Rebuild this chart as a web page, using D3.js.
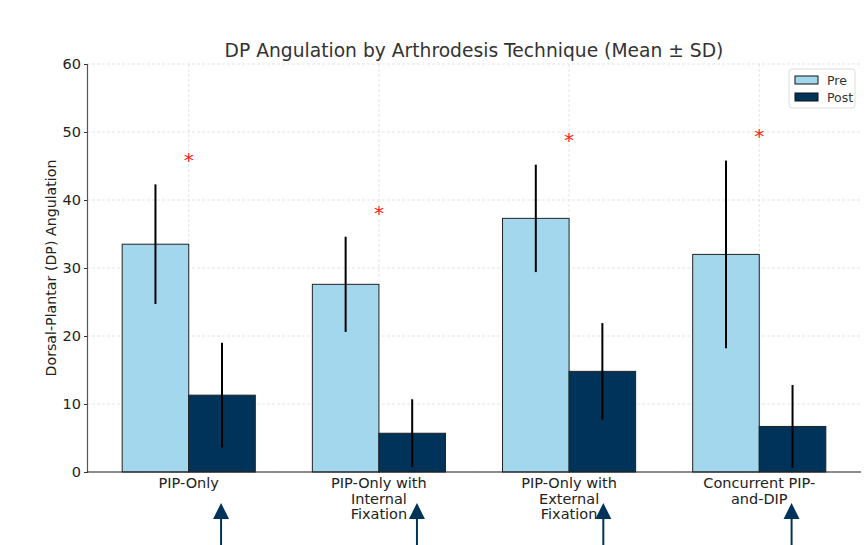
<!DOCTYPE html>
<html>
<head>
<meta charset="utf-8">
<script src="https://cdn.jsdelivr.net/npm/d3@7"></script>
<style>
  body { margin: 0; background: #fff; }
  svg { font-family: "DejaVu Sans", sans-serif; }
</style>
</head>
<body>
<div id="chart"></div>
<script>
// categories and values
const categories = [
  ["PIP-Only"],
  ["PIP-Only with", "Internal", "Fixation"],
  ["PIP-Only with", "External", "Fixation"],
  ["Concurrent PIP-", "and-DIP"]
];
const preMean = [33.5, 27.6, 37.3, 32.0];
const preSD = [8.8, 7.0, 7.9, 13.8];
const postMean = [11.3, 5.7, 14.8, 6.7];
const postSD = [7.7, 5.0, 7.1, 6.1];
const yTicks = [0, 10, 20, 30, 40, 50, 60];
const arrowX = [0.17, 1.2, 2.18, 3.17];  // arrow annotations below the axis, in group units

const W = 866, H = 545;
const margin = { left: 87, right: 5, top: 64, bottom: 73 };
const barW = 0.35;

const svg = d3.select("#chart").append("svg")
  .attr("width", W).attr("height", H);

const x = d3.scaleLinear()
  .domain([-0.535, 3.535])
  .range([margin.left, W - margin.right]);
const y = d3.scaleLinear()
  .domain([0, 60])
  .range([H - margin.bottom, margin.top]);

// grid
const grid = svg.append("g");
grid.selectAll("line.hy").data(yTicks).enter().append("line")
  .attr("x1", x.range()[0]).attr("x2", x.range()[1])
  .attr("y1", d => y(d)).attr("y2", d => y(d))
  .attr("stroke", "#dadada").attr("stroke-width", 0.7).attr("stroke-dasharray", "3,2");
grid.selectAll("line.vx").data(categories).enter().append("line")
  .attr("x1", (d, i) => x(i)).attr("x2", (d, i) => x(i))
  .attr("y1", y(0)).attr("y2", y(60))
  .attr("stroke", "#dadada").attr("stroke-width", 0.7).attr("stroke-dasharray", "3,2");

// bars
const series = [
  { name: "Pre", mean: preMean, sd: preSD, off: -barW, color: "#a3d7ee" },
  { name: "Post", mean: postMean, sd: postSD, off: 0, color: "#003359" }
];
series.forEach(s => {
  const g = svg.append("g");
  g.selectAll("rect").data(s.mean).enter().append("rect")
    .attr("x", (d, i) => x(i + s.off))
    .attr("width", x(barW) - x(0))
    .attr("y", d => y(d))
    .attr("height", d => y(0) - y(d))
    .attr("fill", s.color)
    .attr("stroke", "#222").attr("stroke-width", 1);
  g.selectAll("line").data(s.mean).enter().append("line")
    .attr("x1", (d, i) => x(i + s.off + barW / 2))
    .attr("x2", (d, i) => x(i + s.off + barW / 2))
    .attr("y1", (d, i) => y(d + s.sd[i]))
    .attr("y2", (d, i) => y(Math.max(d - s.sd[i], 0)))
    .attr("stroke", "#000").attr("stroke-width", 2);
});

// significance stars
svg.append("g").selectAll("text").data(preMean).enter().append("text")
  .attr("x", (d, i) => x(i))
  .attr("y", (d, i) => y(d + preSD[i] + 4) + 10)
  .attr("text-anchor", "middle")
  .attr("font-size", 20)
  .attr("fill", "#ff2020")
  .text("*");

// axes
const yAxis = svg.append("g")
  .attr("transform", `translate(${margin.left},0)`)
  .call(d3.axisLeft(y).tickValues(yTicks).tickSize(3).tickPadding(3));
yAxis.select(".domain").attr("stroke", "#555").attr("stroke-width", 1.2);
yAxis.selectAll(".tick line").attr("stroke", "#333");
yAxis.selectAll(".tick text").attr("font-size", 14.5).attr("fill", "#222")
  .attr("font-family", "DejaVu Sans");

svg.append("line")
  .attr("x1", x.range()[0]).attr("x2", x.range()[1])
  .attr("y1", y(0)).attr("y2", y(0))
  .attr("stroke", "#222").attr("stroke-width", 1.2);

// x labels
const xl = svg.append("g").selectAll("text").data(categories).enter().append("text")
  .attr("x", (d, i) => x(i))
  .attr("y", y(0) + 16)
  .attr("text-anchor", "middle")
  .attr("font-size", 14.5)
  .attr("fill", "#222");
xl.selectAll("tspan").data(d => d).enter().append("tspan")
  .attr("x", function () { return this.parentNode.getAttribute("x"); })
  .attr("dy", (d, j) => j === 0 ? 0 : 15.5)
  .text(d => d);

// titles
svg.append("text")
  .attr("x", (x.range()[0] + x.range()[1]) / 2)
  .attr("y", 57)
  .attr("text-anchor", "middle")
  .attr("font-size", 18.7)
  .attr("fill", "#333")
  .text("DP Angulation by Arthrodesis Technique (Mean ± SD)");

svg.append("text")
  .attr("transform", `translate(56,${y(30)}) rotate(-90)`)
  .attr("text-anchor", "middle")
  .attr("font-size", 14.2)
  .attr("fill", "#222")
  .text("Dorsal-Plantar (DP) Angulation");

// legend
const lg = svg.append("g").attr("transform", "translate(789,69)");
lg.append("rect").attr("width", 66).attr("height", 39).attr("rx", 3)
  .attr("fill", "#fff").attr("fill-opacity", 0.85).attr("stroke", "#ddd");
series.forEach((s, i) => {
  const row = lg.append("g").attr("transform", `translate(6,${7 + i * 17})`);
  row.append("rect").attr("width", 23).attr("height", 8)
    .attr("fill", s.color).attr("stroke", "#111").attr("stroke-width", 1);
  row.append("text").attr("x", 32).attr("y", 8.5)
    .attr("font-size", 12.5).attr("fill", "#333").text(s.name);
});

// arrows under the axis
const ar = svg.append("g").selectAll("g").data(arrowX).enter().append("g")
  .attr("transform", d => `translate(${x(d)},0)`);
ar.append("line").attr("x1", 0).attr("x2", 0).attr("y1", 516).attr("y2", H)
  .attr("stroke", "#003359").attr("stroke-width", 2);
ar.append("path").attr("d", "M0,503 L-8,519 L8,519 Z").attr("fill", "#003359");
</script>
</body>
</html>
